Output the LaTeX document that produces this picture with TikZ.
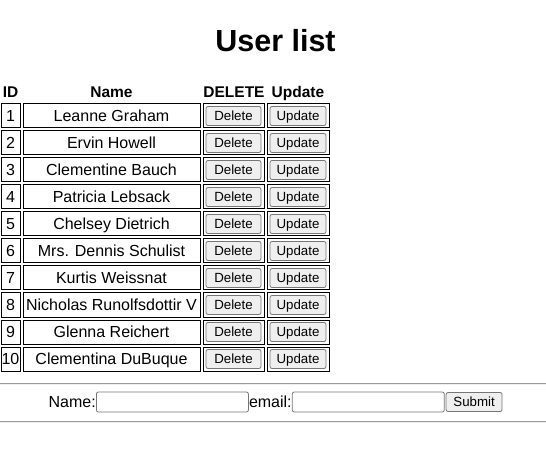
\documentclass[tikz,border=0pt]{standalone}
\usepackage{fontspec}
\setmainfont{Liberation Sans}
\definecolor{btnfill}{HTML}{EFEFEF}
\definecolor{btnline}{HTML}{767676}
\definecolor{hrdark}{HTML}{9A9A9A}
\definecolor{hrlight}{HTML}{EEEEEE}
\tikzset{
  cellbox/.style={draw=black, line width=1pt, minimum height=24pt, inner sep=0pt},
  txt/.style={inner sep=0pt, font=\fontsize{16}{19}\selectfont, text height=10.5pt, text depth=0pt},
  hdr/.style={inner sep=0pt, anchor=base, font=\fontsize{15.5}{19}\selectfont\bfseries},
  btnbox/.style={draw=btnline, fill=btnfill, line width=0.8pt, rounded corners=2pt, minimum height=19pt, inner sep=0pt, font=\fontsize{13.3}{16}\selectfont, text height=9pt, text depth=0pt},
  inbox/.style={draw=btnline, fill=white, line width=0.8pt, rounded corners=2pt, minimum height=20pt, minimum width=152pt, inner sep=0pt},
  hrule/.style={draw=hrdark, line width=1pt},
}
\begin{document}
\begin{tikzpicture}[x=1pt,y=-1pt]
\useasboundingbox (0,0) rectangle (546,454);
\node[inner sep=0pt, anchor=base, font=\fontsize{30.5}{36}\selectfont\bfseries] (title) at (275.5,52) {User list};
\node[hdr] (hid) at (10.5,98) {ID};
\node[hdr] (hname) at (111.5,98) {Name};
\node[hdr] (hdel) at (234,98) {DELETE};
\node[hdr] (hupd) at (298,98) {Update};
\foreach \i/\nm in {1/Leanne Graham,2/Ervin Howell,3/Clementine Bauch,4/Patricia Lebsack,5/Chelsey Dietrich,6/Mrs. Dennis Schulist,7/Kurtis Weissnat,8/Nicholas Runolfsdottir V,9/Glenna Reichert,10/Clementina DuBuque}{
  \pgfmathsetmacro{\cy}{116+27*(\i-1)}
  \node[cellbox, minimum width=19pt] (id\i) at (10.5,\cy) {};
  \node[txt] (idt\i) at (id\i.center) {\i};
  \node[cellbox, minimum width=177pt] (nm\i) at (111.5,\cy) {};
  \node[txt] (nmt\i) at (nm\i.center) {\nm};
  \node[cellbox, minimum width=61pt] (dc\i) at (233.5,\cy) {};
  \node[btnbox, minimum width=55pt] (db\i) at (dc\i.center) {Delete};
  \node[cellbox, minimum width=62pt] (uc\i) at (298,\cy) {};
  \node[btnbox, minimum width=56pt] (ub\i) at (uc\i.center) {Update};
}
\coordinate (hr1l) at (0,383);
\coordinate (hr1r) at (546,383);
\coordinate (hr2l) at (0,421);
\coordinate (hr2r) at (546,421);
\draw[hrule] (hr1l) -- (hr1r);
\draw[hrule] (hr2l) -- (hr2r);
\draw[hrlight, line width=1pt] ([yshift=-1pt]hr1l) -- ([yshift=-1pt]hr1r);
\draw[hrlight, line width=1pt] ([yshift=-1pt]hr2l) -- ([yshift=-1pt]hr2r);
\node[txt, anchor=east] (lname) at (96,402) {Name:};
\node[inbox, anchor=west] (iname) at (96,402) {};
\node[txt, anchor=west] (lmail) at (iname.east) {email:};
\node[inbox, anchor=west] (imail) at (lmail.east) {};
\node[btnbox, anchor=west, minimum width=56pt, minimum height=19pt] (submit) at ([xshift=1pt]imail.east) {Submit};
\end{tikzpicture}
\end{document}
